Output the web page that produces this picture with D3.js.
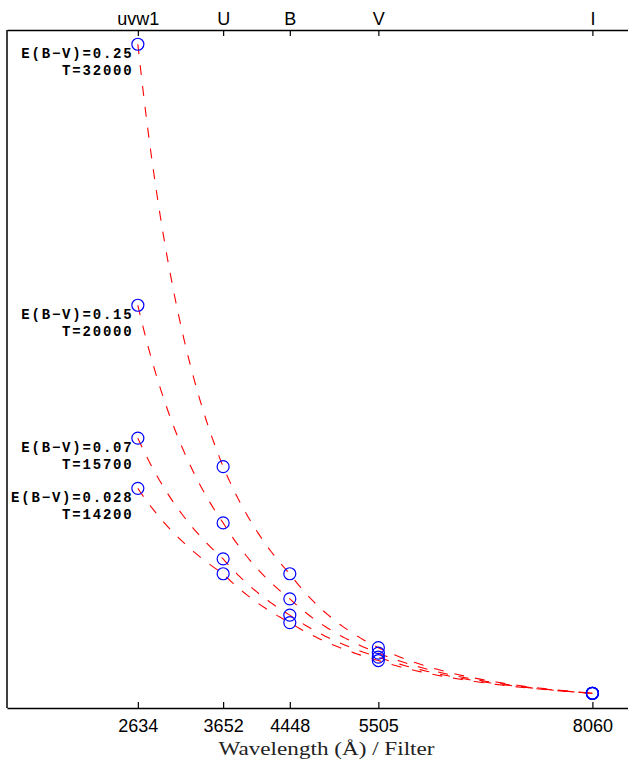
<!DOCTYPE html>
<html>
<head>
<meta charset="utf-8">
<script src="https://cdn.jsdelivr.net/npm/d3@7"></script>
<style>
  html, body { margin: 0; padding: 0; background: #fff; }
  svg { display: block; }
</style>
</head>
<body>
<svg id="chart" width="628" height="759"></svg>
<script>
// Filters and their effective wavelengths (Å)
const filters = ["uvw1", "U", "B", "V", "I"];
const wavelengths = [2634, 3652, 4448, 5505, 8060];

// Reddening / temperature pairs labelling each model
const ebvLabels = ["0.25", "0.15", "0.07", "0.028"];
const temperatures = [32000, 20000, 15700, 14200];

// Relative flux of each model at the five filters
const fluxEbv025 = [0.979, 0.356, 0.198, 0.089, 0.0217];
const fluxEbv015 = [0.594, 0.273, 0.161, 0.081, 0.0217];
const fluxEbv007 = [0.398, 0.220, 0.137, 0.075, 0.0217];
const fluxEbv0028 = [0.324, 0.198, 0.126, 0.070, 0.0217];
const fluxSeries = [fluxEbv025, fluxEbv015, fluxEbv007, fluxEbv0028];

const svg = d3.select("#chart");
const plotLeft = 7, plotRight = 646, plotTop = 30, plotBottom = 708;

const x = d3.scaleLinear().domain([1072, 8700]).range([plotLeft, plotRight]);
const y = d3.scaleLinear().domain([0, 1]).range([plotBottom, plotTop]);

// Frame
svg.append("line").attr("x1", plotLeft).attr("x2", plotLeft).attr("y1", plotTop).attr("y2", plotBottom)
  .attr("stroke", "#000").attr("stroke-width", 1.5);
svg.append("line").attr("x1", plotRight).attr("x2", plotRight).attr("y1", plotTop).attr("y2", plotBottom)
  .attr("stroke", "#000").attr("stroke-width", 1.5);

// Bottom axis: wavelengths
const xBottom = d3.axisBottom(x).tickValues(wavelengths).tickFormat(d3.format("d"))
  .tickSizeInner(-6).tickSizeOuter(0).tickPadding(11);
const gb = svg.append("g").attr("transform", `translate(0,${plotBottom})`).call(xBottom);

// Top axis: filter names
const xTop = d3.axisTop(x).tickValues(wavelengths)
  .tickFormat((d, i) => filters[i])
  .tickSizeInner(-6).tickSizeOuter(0).tickPadding(5);
const gt = svg.append("g").attr("transform", `translate(0,${plotTop})`).call(xTop);

[gb, gt].forEach(g => {
  g.select(".domain").attr("stroke", "#000").attr("stroke-width", 1.5);
  g.selectAll(".tick line").attr("stroke", "#000").attr("stroke-width", 1.2);
  g.selectAll(".tick text").attr("fill", "#000")
    .style("font-family", "'Liberation Sans', Arial, sans-serif").style("font-size", "18px");
});

// Axis title
svg.append("text")
  .attr("x", (plotLeft + plotRight) / 2).attr("y", 755)
  .attr("text-anchor", "middle")
  .attr("fill", "#222")
  .attr("textLength", 216).attr("lengthAdjust", "spacingAndGlyphs")
  .style("font-family", "'Liberation Serif', 'Times New Roman', serif")
  .style("font-size", "18.5px")
  .text("Wavelength (Å) / Filter");

// Model curves: power-law segments between the filter fluxes (straight in log-log)
function modelCurve(values) {
  const pts = [];
  for (let i = 0; i < wavelengths.length - 1; i++) {
    const l0 = wavelengths[i], l1 = wavelengths[i + 1];
    const f0 = values[i], f1 = values[i + 1];
    const k = Math.log(f1 / f0) / Math.log(l1 / l0);
    const n = 40;
    for (let j = 0; j < n; j++) {
      const l = l0 + (l1 - l0) * j / n;
      pts.push([l, f0 * Math.pow(l / l0, k)]);
    }
  }
  pts.push([wavelengths[wavelengths.length - 1], values[values.length - 1]]);
  return pts;
}

const line = d3.line().x(d => x(d[0])).y(d => y(d[1])).curve(d3.curveLinear);

svg.append("g").selectAll("path").data(fluxSeries).join("path")
  .attr("d", d => line(modelCurve(d)))
  .attr("fill", "none")
  .attr("stroke", "#ff0000")
  .attr("stroke-width", 1.1)
  .attr("stroke-dasharray", "10,11");

// Photometric points
fluxSeries.forEach(vals => {
  svg.append("g").selectAll("circle").data(vals).join("circle")
    .attr("cx", (d, i) => x(wavelengths[i]))
    .attr("cy", d => y(d))
    .attr("r", 6)
    .attr("fill", "none")
    .attr("stroke", "#0000ff")
    .attr("stroke-width", 1.2);
});

// Labels next to the uvw1 point of each model
const labelFont = "'Liberation Mono', 'Courier New', monospace";
fluxSeries.forEach((vals, i) => {
  const py = y(vals[0]);
  const g = svg.append("g")
    .style("font-family", labelFont).style("font-weight", "bold")
    .style("font-size", "14px").style("letter-spacing", "1.8px")
    .attr("text-anchor", "end").attr("fill", "#000");
  g.append("text").attr("x", 133.5).attr("y", py + 14)
    .text(`E(B\u2212V)=${ebvLabels[i]}`);
  g.append("text").attr("x", 133.5).attr("y", py + 31)
    .text(`T=${temperatures[i]}`);
});
</script>
</body>
</html>
